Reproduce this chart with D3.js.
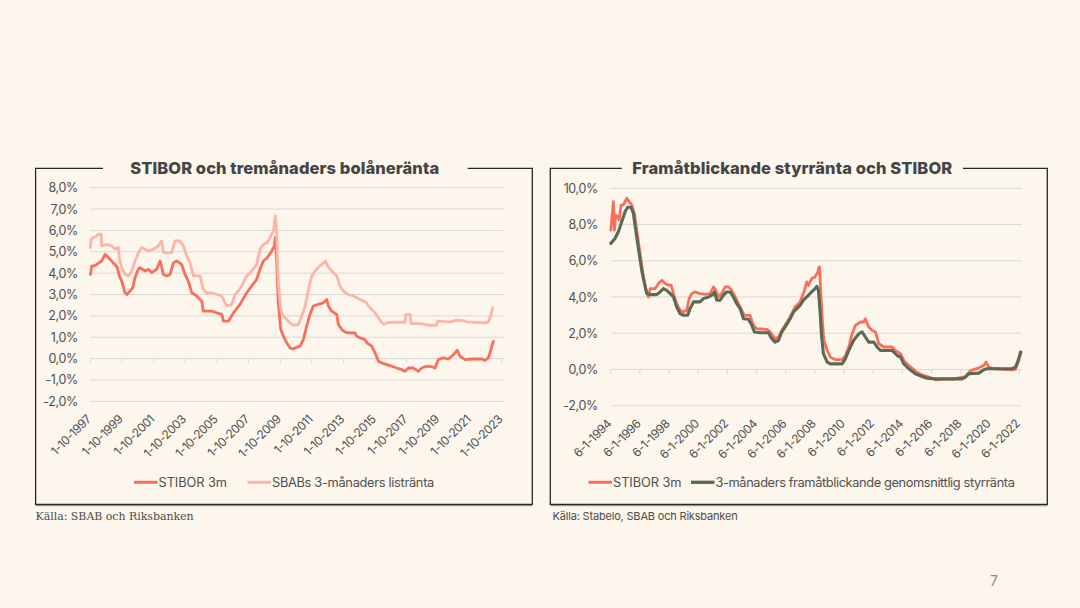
<!DOCTYPE html>
<html><head><meta charset="utf-8">
<script src="https://cdn.jsdelivr.net/npm/d3@7"></script>
<style>html,body{margin:0;background:#fcf6ec;}svg{display:block}</style>
</head><body>
<svg id="c" width="1080" height="608"></svg>
<script>
// ---------- DATA ----------
const leftTitle = "STIBOR och tremånaders bolåneränta";
const rightTitle = "Framåtblickande styrränta och STIBOR";
const leftXLabels = ["1-10-1997","1-10-1999","1-10-2001","1-10-2003","1-10-2005","1-10-2007","1-10-2009","1-10-2011","1-10-2013","1-10-2015","1-10-2017","1-10-2019","1-10-2021","1-10-2023"];
const rightXLabels = ["6-1-1994","6-1-1996","6-1-1998","6-1-2000","6-1-2002","6-1-2004","6-1-2006","6-1-2008","6-1-2010","6-1-2012","6-1-2014","6-1-2016","6-1-2018","6-1-2020","6-1-2022"];
const leftYTicks = [-2,-1,0,1,2,3,4,5,6,7,8];
const rightYTicks = [-2,0,2,4,6,8,10];
const leftSeriesNames = ["STIBOR 3m","SBABs 3-månaders listränta"];
const rightSeriesNames = ["STIBOR 3m","3-månaders framåtblickande genomsnittlig styrränta"];
const leftSource = "Källa: SBAB och Riksbanken";
const rightSource = "Källa: Stabelo, SBAB och Riksbanken";
const pageNumber = "7";

// [decimal year, percent]
const leftStibor = [[1997.03,3.94],[1997.12,4.33],[1997.3,4.35],[1997.43,4.41],[1997.6,4.5],[1997.75,4.57],[1997.96,4.88],[1998.17,4.73],[1998.38,4.57],[1998.5,4.45],[1998.59,4.41],[1998.74,4.25],[1998.86,3.87],[1999.01,3.63],[1999.22,3.08],[1999.33,3.0],[1999.54,3.16],[1999.71,3.32],[1999.85,3.79],[2000.06,4.18],[2000.17,4.26],[2000.49,4.1],[2000.7,4.18],[2000.91,4.02],[2001.22,4.18],[2001.44,4.57],[2001.64,3.94],[2001.86,3.87],[2002.07,3.94],[2002.28,4.49],[2002.49,4.57],[2002.8,4.41],[2003.01,3.94],[2003.22,3.63],[2003.44,3.08],[2003.75,2.93],[2004.07,2.69],[2004.17,2.22],[2004.7,2.22],[2005.02,2.14],[2005.33,2.07],[2005.44,1.75],[2005.75,1.75],[2006.07,2.14],[2006.49,2.54],[2006.91,3.08],[2007.23,3.4],[2007.54,3.71],[2007.75,4.18],[2007.96,4.57],[2008.22,4.73],[2008.49,5.04],[2008.66,5.27],[2008.72,5.67],[2008.81,4.49],[2008.85,3.63],[2008.91,2.61],[2009.06,1.36],[2009.23,1.05],[2009.44,0.74],[2009.65,0.5],[2009.85,0.45],[2009.97,0.5],[2010.28,0.58],[2010.49,0.89],[2010.7,1.52],[2010.91,2.07],[2011.12,2.46],[2011.44,2.54],[2011.76,2.61],[2011.97,2.77],[2012.07,2.46],[2012.28,2.22],[2012.6,2.07],[2012.7,1.6],[2012.92,1.36],[2013.13,1.24],[2013.34,1.2],[2013.76,1.2],[2013.86,1.05],[2014.07,0.97],[2014.39,0.89],[2014.5,0.74],[2014.81,0.58],[2015.02,0.27],[2015.23,-0.12],[2015.44,-0.2],[2015.76,-0.28],[2016.08,-0.36],[2016.39,-0.44],[2016.71,-0.52],[2016.92,-0.6],[2017.13,-0.44],[2017.44,-0.44],[2017.76,-0.6],[2017.97,-0.44],[2018.29,-0.36],[2018.6,-0.38],[2018.81,-0.44],[2019.02,-0.05],[2019.34,0.03],[2019.66,-0.02],[2019.87,0.11],[2020.08,0.27],[2020.22,0.39],[2020.39,0.11],[2020.71,-0.05],[2021.03,-0.02],[2021.45,-0.02],[2021.76,-0.02],[2021.97,-0.09],[2022.18,0.03],[2022.29,0.27],[2022.4,0.58],[2022.5,0.81]];
const leftSbab = [[1997.03,5.2],[1997.07,5.59],[1997.22,5.67],[1997.43,5.74],[1997.54,5.82],[1997.71,5.82],[1997.75,5.27],[1998.06,5.35],[1998.38,5.27],[1998.59,5.12],[1998.8,5.2],[1998.87,4.65],[1999.01,4.26],[1999.22,3.94],[1999.43,3.87],[1999.64,4.1],[1999.86,4.57],[2000.07,4.96],[2000.28,5.2],[2000.49,5.12],[2000.7,5.04],[2001.01,5.12],[2001.33,5.27],[2001.54,5.51],[2001.65,4.96],[2002.17,4.96],[2002.38,5.51],[2002.7,5.51],[2002.91,5.27],[2003.12,4.8],[2003.33,4.49],[2003.54,3.87],[2003.96,3.87],[2004.17,3.24],[2004.38,3.08],[2004.7,3.08],[2005.02,3.0],[2005.33,2.93],[2005.54,2.61],[2005.65,2.46],[2005.96,2.54],[2006.17,3.0],[2006.38,3.16],[2006.6,3.4],[2006.91,3.87],[2007.23,4.1],[2007.54,4.41],[2007.75,5.12],[2007.96,5.35],[2008.22,5.43],[2008.43,5.74],[2008.6,5.98],[2008.72,6.68],[2008.81,5.9],[2008.85,4.65],[2008.91,3.55],[2009.06,2.3],[2009.23,1.99],[2009.44,1.83],[2009.65,1.67],[2009.86,1.55],[2010.18,1.6],[2010.39,1.99],[2010.6,2.46],[2010.81,3.24],[2011.02,3.87],[2011.23,4.1],[2011.44,4.26],[2011.65,4.41],[2011.9,4.57],[2011.97,4.41],[2012.18,4.18],[2012.39,4.02],[2012.6,3.87],[2012.81,3.4],[2013.02,3.16],[2013.34,3.0],[2013.65,2.93],[2013.86,2.85],[2014.08,2.77],[2014.29,2.69],[2014.5,2.6],[2014.6,2.46],[2014.81,2.3],[2015.02,2.14],[2015.23,1.91],[2015.44,1.7],[2015.6,1.6],[2015.76,1.67],[2016.18,1.7],[2016.92,1.7],[2016.96,2.07],[2017.23,2.07],[2017.3,1.64],[2017.97,1.64],[2018.39,1.56],[2018.92,1.56],[2018.98,1.75],[2019.76,1.72],[2020.19,1.8],[2020.6,1.78],[2020.82,1.72],[2021.97,1.67],[2022.18,1.72],[2022.29,1.91],[2022.46,2.38]];
const rightStibor = [[1994.42,7.69],[1994.6,9.26],[1994.67,7.69],[1994.76,8.52],[1994.9,8.43],[1994.99,8.25],[1995.13,9.08],[1995.29,9.08],[1995.4,9.26],[1995.52,9.45],[1995.68,9.26],[1995.86,9.08],[1996.04,8.62],[1996.2,7.69],[1996.43,6.4],[1996.66,5.11],[1996.84,4.37],[1997.0,4.0],[1997.12,4.46],[1997.46,4.46],[1997.69,4.74],[1997.92,4.93],[1998.14,4.74],[1998.37,4.65],[1998.56,4.65],[1998.72,4.19],[1998.94,3.63],[1999.17,3.27],[1999.4,3.17],[1999.63,3.27],[1999.79,3.91],[1999.97,4.19],[2000.2,4.28],[2000.54,4.19],[2000.89,4.15],[2001.23,4.19],[2001.46,4.56],[2001.62,4.37],[2001.8,4.0],[2002.03,4.19],[2002.26,4.56],[2002.49,4.56],[2002.72,4.37],[2002.95,4.0],[2003.17,3.63],[2003.4,3.27],[2003.59,2.99],[2003.97,2.99],[2004.2,2.44],[2004.43,2.25],[2005.12,2.21],[2005.35,2.07],[2005.69,1.7],[2005.92,1.79],[2006.15,2.16],[2006.37,2.44],[2006.72,2.9],[2007.06,3.45],[2007.4,3.73],[2007.63,4.19],[2007.86,4.83],[2007.98,4.65],[2008.2,5.02],[2008.43,5.11],[2008.62,5.39],[2008.68,5.6],[2008.73,5.66],[2008.8,4.56],[2008.91,2.9],[2009.03,1.61],[2009.26,1.05],[2009.48,0.68],[2009.83,0.54],[2010.28,0.54],[2010.51,0.77],[2010.74,1.24],[2010.97,1.97],[2011.2,2.44],[2011.54,2.62],[2011.77,2.62],[2011.88,2.8],[2012.11,2.34],[2012.34,2.16],[2012.57,2.07],[2012.8,1.42],[2013.14,1.24],[2013.71,1.24],[2013.94,1.05],[2014.29,0.87],[2014.51,0.5],[2014.86,0.22],[2015.31,-0.09],[2015.77,-0.3],[2016.23,-0.42],[2016.69,-0.57],[2017.37,-0.52],[2017.83,-0.55],[2018.29,-0.46],[2018.74,-0.39],[2019.09,-0.06],[2019.66,0.09],[2020.0,0.22],[2020.16,0.41],[2020.34,0.13],[2020.69,0.04],[2021.94,-0.02],[2022.17,0.0],[2022.36,0.41],[2022.56,0.96]];
const rightPolicy = [[1994.42,6.96],[1994.71,7.23],[1994.94,7.6],[1995.17,8.15],[1995.4,8.71],[1995.58,8.95],[1995.81,8.95],[1995.97,8.62],[1996.13,7.69],[1996.33,6.59],[1996.54,5.48],[1996.73,4.74],[1996.89,4.19],[1997.12,4.13],[1997.57,4.13],[1997.8,4.28],[1998.03,4.46],[1998.26,4.37],[1998.49,4.19],[1998.72,4.0],[1998.94,3.45],[1999.17,3.08],[1999.4,2.99],[1999.7,2.99],[1999.86,3.36],[2000.09,3.73],[2000.54,3.73],[2000.77,3.91],[2001.12,4.0],[2001.35,4.1],[2001.53,4.28],[2001.69,3.82],[2001.92,3.82],[2002.15,4.1],[2002.37,4.28],[2002.6,4.28],[2002.83,4.0],[2003.06,3.63],[2003.29,3.36],[2003.52,2.8],[2003.86,2.77],[2004.09,2.44],[2004.27,2.07],[2004.66,2.03],[2005.23,2.03],[2005.46,1.7],[2005.69,1.51],[2005.92,1.61],[2006.15,2.07],[2006.37,2.34],[2006.72,2.8],[2006.95,3.17],[2007.18,3.36],[2007.4,3.54],[2007.63,3.82],[2007.98,4.1],[2008.2,4.28],[2008.43,4.46],[2008.55,4.59],[2008.66,4.37],[2008.78,3.1],[2008.88,1.79],[2009.0,0.87],[2009.26,0.41],[2009.48,0.31],[2010.28,0.31],[2010.51,0.59],[2010.74,1.05],[2011.08,1.61],[2011.43,1.97],[2011.66,2.07],[2011.88,1.79],[2012.11,1.51],[2012.46,1.51],[2012.68,1.24],[2012.91,1.05],[2013.71,1.05],[2014.06,0.77],[2014.29,0.68],[2014.51,0.31],[2014.86,0.04],[2015.31,-0.24],[2015.77,-0.39],[2016.11,-0.48],[2016.69,-0.52],[2018.51,-0.52],[2018.74,-0.42],[2018.97,-0.24],[2019.66,-0.2],[2020.0,-0.02],[2020.23,0.04],[2021.94,0.04],[2022.17,0.13],[2022.36,0.5],[2022.52,0.96]];

// ---------- STYLE / LAYOUT ----------
const BG = "#fcf6ec", RED = "#fa6f5c", PINK = "#fcb6a8", GREEN = "#5b6a52";
const GRID = "#d9d9d9", TXT = "#505050", TITLE = "#444444";
const SANS = "Inter, 'Noto Sans', sans-serif";
const SERIF = "'DejaVu Serif', 'Liberation Serif', serif";

const svg = d3.select("#c");
svg.append("rect").attr("width",1080).attr("height",608).attr("fill",BG);

const loc = d3.formatLocale({decimal:",", thousands:" ", grouping:[3], currency:["","kr"], minus:"-"});
const f1 = loc.format(".1f");
const pct = v => f1(v) + "%";
const parseMDY = d3.timeParse("%m-%d-%Y");
function yd(y){ const yr=Math.floor(y); const a=new Date(yr,0,1), b=new Date(yr+1,0,1); return new Date(+a + (y-yr)*(b-a)); }
function fit(sel, target){ const n=sel.node(); const len=n.getComputedTextLength(); const k=n.getNumberOfChars(); sel.attr("letter-spacing", ((target-len)/k).toFixed(3)); }

function drawChart(c){
  const g = svg.append("g");
  const [bx0,by0,bx1,by1] = c.box;
  // frame
  g.append("line").attr("x1",bx0).attr("x2",bx1).attr("y1",by1+1.4).attr("y2",by1+1.4).attr("stroke","#9a9a9a").attr("stroke-width",1.2);
  const fr = g.append("g").attr("stroke","#262626").attr("stroke-width",1.3).attr("fill","none");
  fr.append("path").attr("d",`M${c.gap[0]},${by0}H${bx0}V${by1}H${bx1}V${by0}H${c.gap[1]}`);
  // title
  const t = g.append("text").attr("x",c.titleX).attr("y",by0+5.8).attr("text-anchor","middle")
    .attr("font-family",SANS).attr("font-weight",800).attr("font-size",16.5).attr("fill",TITLE).text(c.title);
  fit(t, c.titleW);

  const xTickDates = c.xLabels.map(parseMDY);
  const x = d3.scaleTime().domain([xTickDates[0], xTickDates[xTickDates.length-1]]).range(c.xRange);
  const y = d3.scaleLinear().domain(c.yDomain).range(c.yRange);

  // gridlines
  g.append("g").selectAll("line").data(c.yTicks).join("line")
    .attr("x1",c.xRange[0]).attr("x2",c.gridRight).attr("y1",d=>y(d)).attr("y2",d=>y(d))
    .attr("stroke",GRID).attr("stroke-width",1);
  // y labels
  g.append("g").selectAll("text").data(c.yTicks).join("text")
    .attr("x",c.yLabelX).attr("y",d=>y(d)).attr("dy","0.36em").attr("text-anchor","end")
    .attr("font-family",SANS).attr("font-size",12.5).attr("letter-spacing",-0.35).attr("fill",TXT).text(pct);
  // x ticks on zero line
  g.append("g").selectAll("line").data(xTickDates).join("line")
    .attr("x1",d=>x(d)).attr("x2",d=>x(d)).attr("y1",y(0)).attr("y2",y(0)+4.5)
    .attr("stroke",GRID).attr("stroke-width",1);
  // x labels (low position)
  const ly = y(c.yDomain[0]) + 18.8;
  g.append("g").selectAll("text").data(c.xLabels).join("text")
    .attr("transform",(d,i)=>`translate(${x(xTickDates[i])+1.5},${ly}) rotate(-45)`)
    .attr("text-anchor","end").attr("font-family",SANS).attr("font-size",12).attr("letter-spacing",-0.45)
    .attr("fill",TXT).text(d=>d);

  // series
  const line = d3.line().x(d=>x(yd(d[0]))).y(d=>y(d[1]));
  c.series.forEach(s=>{
    g.append("path").datum(s.data).attr("d",line).attr("fill","none")
      .attr("stroke",s.color).attr("stroke-width",s.w).attr("stroke-linejoin","round").attr("stroke-linecap","round");
  });
  // legend
  c.legend.forEach((l,i)=>{
    const s = c.series[i];
    g.append("line").attr("x1",l.x).attr("x2",l.x+23.5).attr("y1",c.legendY).attr("y2",c.legendY)
      .attr("stroke",s.color).attr("stroke-width",s.w+0.2);
    const lt = g.append("text").attr("x",l.x+24.5).attr("y",c.legendY+4.5)
      .attr("font-family",SANS).attr("font-size",12.8).attr("fill",TXT).text(l.name);
    fit(lt, l.w);
  });
  // source
  const st = svg.append("text").attr("x",c.source.x).attr("y",c.source.y)
    .attr("font-family",c.source.font).attr("font-size",c.source.size).attr("fill","#4d4d4d").text(c.source.text);
  fit(st, c.source.w);
}

drawChart({
  box:[35.6,168.3,532.3,504.3], gap:[103,467.7], title:leftTitle, titleX:284.7, titleW:309,
  xLabels:leftXLabels, xRange:[90.3,501.7], gridRight:504,
  yDomain:[-2,8], yRange:[401.3,187.7], yTicks:leftYTicks, yLabelX:78,
  series:[{data:leftStibor,color:RED,w:2.8},{data:leftSbab,color:PINK,w:2.8}],
  legendY:482.3,
  legend:[{x:134,name:leftSeriesNames[0],w:68.5},{x:247.5,name:leftSeriesNames[1],w:162}],
  source:{text:leftSource,x:35.6,y:519.5,font:SERIF,size:11,w:158}
});
drawChart({
  box:[550.3,168.3,1047.3,504.3], gap:[621.7,963], title:rightTitle, titleX:792.3, titleW:320,
  xLabels:rightXLabels, xRange:[610.7,1019], gridRight:1021.7,
  yDomain:[-2,10], yRange:[405.7,188.3], yTicks:rightYTicks, yLabelX:598,
  series:[{data:rightStibor,color:RED,w:2.8},{data:rightPolicy,color:GREEN,w:3.1}],
  legendY:482.3,
  legend:[{x:588.5,name:rightSeriesNames[0],w:68.5},{x:691,name:rightSeriesNames[1],w:299}],
  source:{text:rightSource,x:552.5,y:520,font:SANS,size:11,w:185}
});

svg.append("text").attr("x",994).attr("y",585.5).attr("text-anchor","middle")
  .attr("font-family",SANS).attr("font-size",14).attr("fill","#8a8a8a").text(pageNumber);
</script>
</body></html>
